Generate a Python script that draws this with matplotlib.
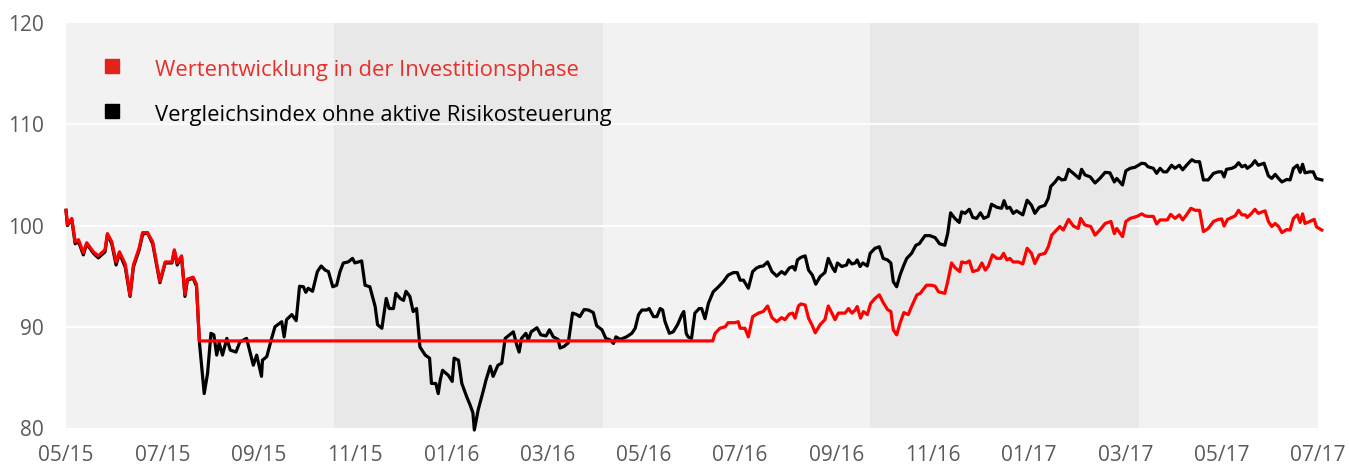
import matplotlib
matplotlib.use("Agg")
import matplotlib.pyplot as plt

plt.rcParams['font.family'] = ['Open Sans', 'DejaVu Sans']

# x = months since 05/2015
black_m = [0.00, 0.03, 0.12, 0.19, 0.26, 0.36, 0.43, 0.57, 0.67, 0.81, 0.86, 0.95, 1.04, 1.11, 1.23, 1.33, 1.40,
           1.52, 1.59, 1.69, 1.80, 1.95, 2.06, 2.20, 2.25, 2.31, 2.40, 2.47, 2.52, 2.64, 2.71, 2.77, 2.87, 2.94,
           3.01, 3.07, 3.13, 3.18, 3.25, 3.34, 3.41, 3.53, 3.61, 3.75, 3.89, 3.96, 4.06, 4.08, 4.17, 4.27, 4.34,
           4.48, 4.53, 4.58, 4.69, 4.78, 4.85, 4.93, 4.98, 5.03, 5.12, 5.22, 5.30, 5.38, 5.45, 5.54, 5.62, 5.69,
           5.76, 5.86, 5.95, 6.00, 6.14, 6.21, 6.31, 6.42, 6.47, 6.56, 6.65, 6.71, 6.80, 6.85, 6.94, 7.01, 7.06,
           7.14, 7.21, 7.28, 7.35, 7.46, 7.55, 7.59, 7.68, 7.73, 7.77, 7.82, 7.94, 8.02, 8.06, 8.15, 8.22, 8.32,
           8.39, 8.45, 8.48, 8.56, 8.67, 8.72, 8.81, 8.87, 8.97, 9.05, 9.12, 9.21, 9.29, 9.36, 9.41, 9.46, 9.55,
           9.60, 9.66, 9.78, 9.86, 9.97, 10.04, 10.12, 10.22, 10.26, 10.34, 10.43, 10.52, 10.61, 10.67, 10.76,
           10.85, 10.95, 11.02, 11.13, 11.21, 11.30, 11.37, 11.42, 11.51, 11.64, 11.75, 11.82, 11.89, 11.96,
           12.06, 12.11, 12.20, 12.27, 12.34, 12.39, 12.44, 12.53, 12.61, 12.70, 12.79, 12.83, 12.88, 12.92,
           12.99, 13.06, 13.15, 13.20, 13.27, 13.34, 13.44, 13.55, 13.65, 13.75, 13.86, 13.94, 14.00, 14.07,
           14.17, 14.26, 14.34, 14.41, 14.48, 14.57, 14.66, 14.76, 14.86, 14.93, 15.02, 15.09, 15.14, 15.19,
           15.26, 15.35, 15.42, 15.50, 15.57, 15.66, 15.76, 15.83, 15.92, 15.97, 16.02, 16.11, 16.21, 16.25,
           16.32, 16.39, 16.43, 16.49, 16.55, 16.64, 16.70, 16.80, 16.89, 16.97, 17.06, 17.13, 17.18, 17.25,
           17.32, 17.40, 17.46, 17.56, 17.65, 17.72, 17.84, 17.94, 18.05, 18.14, 18.25, 18.31, 18.37, 18.46,
           18.55, 18.60, 18.67, 18.76, 18.83, 18.91, 18.99, 19.06, 19.15, 19.22, 19.33, 19.43, 19.48, 19.54,
           19.60, 19.67, 19.74, 19.87, 19.96, 20.05, 20.12, 20.21, 20.33, 20.40, 20.45, 20.54, 20.61, 20.68,
           20.75, 20.82, 20.92, 21.04, 21.09, 21.16, 21.27, 21.37, 21.47, 21.58, 21.68, 21.77, 21.82, 21.94,
           22.01, 22.10, 22.20, 22.34, 22.41, 22.47, 22.58, 22.65, 22.72, 22.79, 22.86, 22.96, 23.03, 23.12,
           23.19, 23.27, 23.38, 23.45, 23.54, 23.62, 23.72, 23.83, 23.93, 24.00, 24.05, 24.10, 24.21, 24.28,
           24.35, 24.42, 24.49, 24.53, 24.62, 24.69, 24.76, 24.88, 24.97, 25.04, 25.11, 25.18, 25.25, 25.35,
           25.42, 25.49, 25.57, 25.63, 25.68, 25.73, 25.83, 25.90, 25.96, 26.08]
black_v = [101.5, 100.0, 100.6, 98.2, 98.4, 97.1, 98.2, 97.25, 96.8, 97.4, 99.1, 98.2, 96.1, 97.25, 95.9, 93.0, 95.9,
           97.6, 99.1, 99.3, 98.2, 94.35, 96.3, 96.3, 97.5, 96.1, 96.9, 93.0, 94.6, 94.8, 94.0, 88.5, 83.4, 85.4,
           89.35, 89.2, 87.2, 88.4, 87.2, 88.85, 87.7, 87.5, 88.5, 88.85, 86.2, 87.2, 85.1, 86.7, 87.05, 88.85, 90.0,
           90.5, 89.0, 90.7, 91.2, 90.6, 94.0, 93.95, 93.4, 93.8, 93.5, 95.45, 96.0, 95.6, 95.45, 93.95, 94.1, 95.45,
           96.3, 96.4, 96.75, 96.3, 96.5, 94.1, 93.95, 92.0, 90.2, 89.85, 92.8, 91.8, 91.8, 93.3, 92.8, 92.6, 93.5,
           93.0, 91.5, 91.8, 88.0, 87.2, 86.9, 84.4, 84.4, 83.4, 84.7, 85.7, 85.2, 84.6, 86.9, 86.7, 84.4, 83.1,
           82.3, 81.5, 79.8, 81.8, 83.75, 84.7, 86.1, 85.1, 86.2, 86.4, 88.85, 89.2, 89.5, 88.2, 87.5, 88.85, 89.35,
           88.7, 89.5, 89.9, 89.2, 89.1, 89.7, 89.0, 88.75, 87.9, 88.05, 88.4, 91.35, 91.2, 91.0, 91.7,
           91.65, 91.4, 90.1, 89.7, 88.85, 88.7, 88.35, 89.0, 88.75, 89.0, 89.35, 89.85, 91.2, 91.65,
           91.65, 91.8, 91.0, 91.0, 91.8, 91.65, 90.5, 89.35, 89.5, 90.2, 91.2, 91.5, 89.35, 89.0,
           88.85, 91.35, 91.8, 91.8, 90.8, 92.3, 93.45, 93.95, 94.45, 95.1, 95.35, 95.35, 94.6, 94.6,
           93.8, 95.45, 95.8, 95.95, 96.0, 96.4, 95.45, 95.0, 95.45, 95.2, 95.8, 95.95, 95.6, 96.6,
           96.85, 97.0, 95.6, 95.1, 94.2, 94.95, 95.35, 96.75, 95.8, 95.45, 96.3, 95.95, 96.1, 96.6,
           96.2, 96.3, 96.6, 95.95, 96.3, 96.0, 97.25, 97.75, 97.9, 96.75, 96.6, 96.3, 94.45, 93.95,
           95.1, 96.1, 96.75, 97.25, 98.05, 98.2, 99.0, 99.0, 98.8, 98.2, 98.05, 99.2, 101.25, 100.7,
           100.3, 101.35, 101.2, 101.6, 100.8, 100.7, 101.25, 100.7, 100.9, 102.1, 101.8, 101.7, 102.45, 101.7,
           101.8, 101.2, 101.45, 101.05, 102.5, 102.0, 101.2, 101.8, 102.0, 102.7, 103.85, 104.3, 104.75, 104.5,
           104.55, 105.55, 105.15, 104.65, 105.55, 105.0, 104.8, 104.2, 104.65, 105.25, 105.2, 104.3, 104.65, 104.0,
           105.4, 105.65, 105.75, 106.15, 106.1, 105.8, 105.65, 105.15, 105.65, 105.3, 105.3, 105.95, 105.65, 105.95,
           105.5, 105.95, 106.5, 106.3, 106.3, 104.5, 104.5, 105.15, 105.3, 105.3, 104.8, 105.55, 105.65, 105.8,
           106.2, 105.8, 105.95, 105.65, 105.95, 106.4, 105.95, 106.15, 104.9, 104.65, 105.05, 104.65, 104.3, 104.55,
           104.5, 105.65, 105.95, 105.25, 106.05, 105.2, 105.3, 105.3, 104.65, 104.5]

red_m = [0.00, 0.03, 0.12, 0.19, 0.26, 0.36, 0.43, 0.57, 0.67, 0.81, 0.86, 0.95, 1.04, 1.11, 1.23, 1.33, 1.40,
         1.52, 1.59, 1.69, 1.80, 1.95, 2.06, 2.20, 2.25, 2.31, 2.40, 2.47, 2.52, 2.64, 2.71, 2.77,
         13.43, 13.48, 13.58, 13.69, 13.75, 13.89, 13.96, 14.00, 14.10, 14.17, 14.26, 14.38, 14.48, 14.57,
         14.66, 14.76, 14.86, 14.93, 15.02, 15.09, 15.14, 15.21, 15.26, 15.35, 15.42, 15.49, 15.56, 15.66,
         15.76, 15.83, 15.92, 15.97, 16.04, 16.18, 16.25, 16.32, 16.39, 16.43, 16.50, 16.56, 16.64, 16.71,
         16.80, 16.89, 16.97, 17.06, 17.13, 17.18, 17.25, 17.32, 17.40, 17.49, 17.56, 17.67, 17.74, 17.87,
         17.98, 18.05, 18.12, 18.25, 18.31, 18.39, 18.46, 18.56, 18.60, 18.69, 18.76, 18.83, 18.94, 19.02,
         19.09, 19.15, 19.24, 19.33, 19.41, 19.47, 19.54, 19.60, 19.67, 19.78, 19.87, 19.96, 20.05, 20.12,
         20.21, 20.33, 20.40, 20.47, 20.57, 20.64, 20.71, 20.82, 20.92, 21.02, 21.07, 21.16, 21.28, 21.37,
         21.47, 21.58, 21.70, 21.77, 21.82, 21.94, 22.01, 22.10, 22.24, 22.34, 22.41, 22.47, 22.58, 22.65,
         22.72, 22.87, 22.94, 23.03, 23.12, 23.19, 23.27, 23.36, 23.45, 23.54, 23.62, 23.72, 23.83, 23.93,
         24.00, 24.05, 24.12, 24.21, 24.28, 24.35, 24.42, 24.49, 24.53, 24.62, 24.69, 24.76, 24.90, 24.97,
         25.04, 25.11, 25.18, 25.25, 25.35, 25.42, 25.49, 25.57, 25.63, 25.68, 25.73, 25.83, 25.92, 25.97, 26.08]
red_v = [101.5, 100.1, 100.7, 98.4, 98.6, 97.3, 98.3, 97.4, 97.0, 97.6, 99.2, 98.4, 96.4, 97.4, 96.2, 93.1, 96.1,
         97.8, 99.3, 99.3, 98.4, 94.5, 96.4, 96.4, 97.6, 96.3, 97.0, 93.2, 94.7, 94.9, 94.2, 88.6,
         88.6, 89.35, 89.85, 90.0, 90.4, 90.4, 90.5, 89.85, 89.85, 89.0, 91.0, 91.35, 91.5, 92.05,
         90.9, 90.5, 90.9, 90.7, 91.25, 91.35, 90.85, 92.05, 92.25, 92.15, 90.85, 90.2, 89.4, 90.2,
         90.7, 92.05, 91.2, 90.7, 91.35, 91.35, 91.8, 91.35, 91.65, 92.0, 90.85, 91.5, 91.2, 92.3,
         92.8, 93.15, 92.4, 91.7, 91.5, 89.7, 89.2, 90.35, 91.4, 91.2, 92.0, 93.15, 93.3, 94.1,
         94.1, 94.0, 93.45, 93.3, 94.45, 96.3, 95.85, 95.45, 96.4, 96.3, 96.5, 95.45, 95.6, 96.3,
         95.6, 95.95, 97.1, 96.75, 96.75, 97.25, 96.6, 96.75, 96.4, 96.4, 96.2, 97.75, 97.25, 96.25,
         97.1, 97.25, 97.9, 99.05, 99.55, 99.9, 99.55, 100.6, 99.95, 99.7, 100.7, 100.05, 99.9, 99.05,
         99.55, 100.2, 100.4, 99.2, 99.7, 98.9, 100.4, 100.7, 100.9, 101.15, 100.95, 100.9, 100.9, 100.15,
         100.55, 100.55, 101.1, 100.7, 101.05, 100.55, 101.05, 101.7, 101.5, 101.5, 99.4, 99.7, 100.4, 100.6,
         100.65, 99.95, 100.6, 100.8, 100.95, 101.5, 101.05, 101.05, 100.8, 101.2, 101.6, 101.2, 101.45, 100.4,
         99.9, 100.2, 99.9, 99.3, 99.6, 99.55, 100.7, 101.05, 100.3, 101.15, 100.2, 100.4, 100.6, 99.85, 99.55]

tick_months = [0, 2, 4, 6, 8, 10, 12, 14, 16, 18, 20, 22, 24, 26]
tick_labels = ['05/15', '07/15', '09/15', '11/15', '01/16', '03/16', '05/16', '07/16',
               '09/16', '11/16', '01/17', '03/17', '05/17', '07/17']
shaded_periods = [(5.57, 11.15), (16.70, 22.28)]
legend_labels = ['Wertentwicklung in der Investitionsphase', 'Vergleichsindex ohne aktive Risikosteuerung']

fig = plt.figure(figsize=(13.49, 4.70), dpi=100)
ax = fig.add_axes([66 / 1349, 42 / 470, 1252 / 1349, 405 / 470])
ax.set_facecolor('#f2f2f2')
for a, b in shaded_periods:
    ax.axvspan(a, b, color='#e8e8e8', lw=0, zorder=0)
for y in [90, 100, 110]:
    ax.axhline(y, color='white', lw=1.3, zorder=1)

ax.plot(black_m, black_v, color='black', lw=2.3, zorder=3, clip_on=False, solid_joinstyle='round')
ax.plot(red_m, red_v, color='#ff0000', lw=2.3, zorder=4, clip_on=False, solid_joinstyle='round')

ax.set_xlim(0, 26)
ax.set_ylim(80, 120)
ax.set_yticks([80, 90, 100, 110, 120])
ax.set_xticks(tick_months)
ax.set_xticklabels(tick_labels)
for s in ax.spines.values():
    s.set_visible(False)
ax.tick_params(axis='both', length=0, labelsize=15, labelcolor='#5a5a5a')
ax.tick_params(axis='y', pad=16)
ax.tick_params(axis='x', pad=12)

leg_colors = ['#e2231a', 'black']
text_colors = ['#e8302a', 'black']
leg_y = [0.8926, 0.7815]
text_y = [0.882, 0.772]
for lab, mc, tc, yy, ty in zip(legend_labels, leg_colors, text_colors, leg_y, text_y):
    ax.plot([0.0371], [yy], marker='s', ms=10, color=mc, ls='', transform=ax.transAxes, zorder=5)
    ax.text(0.0711, ty, lab, color=tc, fontsize=15.8, va='center', ha='left', transform=ax.transAxes, zorder=5)

fig.savefig('out.png', dpi=100)
